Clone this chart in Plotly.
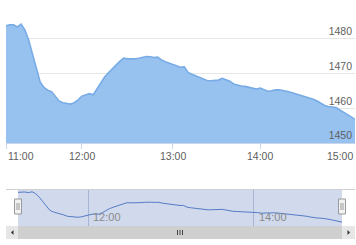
import numpy as np
import pandas as pd
import plotly.graph_objects as go

# ---- data ----
seg_starts = ["11:00", "12:00", "13:00", "14:00"]
seg_counts = [20, 24, 23, 25]   # points per hour (ordinal axis)
end_time = "15:00"

prices = [
    1483.7, 1484.0, 1484.0, 1483.4, 1484.2, 1482.5, 1479.5, 1475.5, 1471.4, 1467.6,
    1466.0, 1465.2, 1464.8, 1463.3, 1462.1, 1461.6, 1461.5, 1461.2, 1461.6, 1462.4,
    1463.5, 1463.9, 1464.2, 1463.9, 1465.5, 1467.4, 1469.0, 1470.2, 1471.2, 1472.4,
    1473.5, 1474.4, 1474.2, 1474.1, 1474.2, 1474.4, 1474.7, 1474.9, 1474.8, 1474.6,
    1474.7, 1473.9, 1473.4, 1473.0, 1472.7, 1472.2, 1471.8, 1471.9, 1470.3, 1469.8,
    1469.4, 1469.0, 1468.6, 1468.0, 1467.9, 1468.0, 1468.1, 1468.6, 1468.3, 1467.8,
    1467.0, 1466.6, 1466.4, 1466.3, 1466.1, 1465.8, 1465.5, 1465.8, 1465.4, 1464.9,
    1465.0, 1465.3, 1465.3, 1465.2, 1464.9, 1464.6, 1464.3, 1464.0, 1463.7, 1463.4,
    1462.9, 1462.6, 1462.1, 1461.4, 1460.8, 1460.5, 1460.4, 1460.2, 1459.5, 1458.9,
    1458.2, 1457.5, 1456.8,
]

main_ticks = ["11:00", "12:00", "13:00", "14:00", "15:00"]
nav_ticks = ["12:00", "14:00"]
y_ticks = [1450, 1460, 1470, 1480, 1490]
y_ticktext = ["1450", "1460", "1470", "1480", ""]

# ---- build ordinal time labels ----
times = []
for start, n in zip(seg_starts, seg_counts):
    t0 = pd.Timestamp("2000-01-01 " + start)
    for k in range(n):
        t = t0 + pd.Timedelta(seconds=round(3600 * k / n))
        times.append(t.strftime("%H:%M:%S"))
times.append(pd.Timestamp("2000-01-01 " + end_time).strftime("%H:%M:%S"))

def cat(hm):
    return hm + ":00"

W, H = 356, 245
px = lambda v: v / W
py = lambda v: 1 - v / H

fig = go.Figure()

fig.add_trace(go.Scatter(
    x=times, y=prices, mode="lines", fill="tozeroy",
    line=dict(color="#78ace6", width=1.6),
    fillcolor="rgb(151,193,239)",
    xaxis="x", yaxis="y", hoverinfo="x+y", showlegend=False,
))

fig.add_trace(go.Scatter(
    x=times, y=prices, mode="lines",
    line=dict(color="#4d78c4", width=1),
    xaxis="x2", yaxis="y2", hoverinfo="skip", showlegend=False,
))

font_fam = "Liberation Sans, Arial, sans-serif"

fig.update_layout(
    width=W, height=H,
    margin=dict(l=0, r=0, t=0, b=0),
    paper_bgcolor="white", plot_bgcolor="white",
    font=dict(family=font_fam, size=10, color="#606060"),
    xaxis=dict(
        type="category", domain=[px(6), px(355)], range=[0, len(times) - 1],
        anchor="y", showgrid=False, showline=True, linecolor="#ccd6eb", linewidth=1,
        ticks="outside", ticklen=5, tickcolor="#ccd6eb",
        tickvals=[cat(t) for t in main_ticks], showticklabels=False,
        zeroline=False, fixedrange=True,
    ),
    yaxis=dict(
        domain=[py(143), py(4)], range=[1450, 1490], anchor="x", side="right",
        tickvals=y_ticks, ticktext=y_ticktext, ticklabelposition="inside top",
        showgrid=True, gridcolor="#e6e6e6", gridwidth=1, showline=False,
        zeroline=False, ticks="", tickfont=dict(size=10.5, color="#606060"),
        fixedrange=True,
    ),
    xaxis2=dict(
        type="category", domain=[px(18), px(342)], range=[0, len(times) - 1],
        anchor="y2", showgrid=True, gridcolor="#c4cad6", gridwidth=1,
        tickvals=[cat(t) for t in nav_ticks], showticklabels=False,
        showline=False, zeroline=False, ticks="", fixedrange=True,
    ),
    yaxis2=dict(
        domain=[py(226), py(189)], range=[1453.3, 1486.7], anchor="x2",
        showgrid=False, showticklabels=False, showline=False, zeroline=False,
        fixedrange=True,
    ),
)

# main x tick labels (left/center/right aligned like Highcharts)
for t in main_ticks:
    anchor = "left" if t == main_ticks[0] else ("right" if t == main_ticks[-1] else "center")
    fig.add_annotation(
        x=cat(t), xref="x", y=py(156), yref="paper", text=t, showarrow=False,
        xanchor=anchor, yanchor="middle",
        font=dict(size=10.5, color="#606060", family=font_fam),
    )

# navigator labels
for t in nav_ticks:
    fig.add_annotation(
        x=cat(t), xref="x2", y=py(217), yref="paper", text=t, showarrow=False,
        xanchor="left", yanchor="middle", xshift=3,
        font=dict(size=11, color="#8a8a8a", family=font_fam),
    )

shapes = []
# navigator mask
shapes.append(dict(type="rect", xref="paper", yref="paper",
                   x0=px(18), x1=px(342), y0=py(226), y1=py(189),
                   fillcolor="rgba(102,133,194,0.3)", line=dict(width=0), layer="above"))
# navigator outline (top)
shapes.append(dict(type="line", xref="paper", yref="paper",
                   x0=px(6), x1=px(355), y0=py(189.5), y1=py(189.5),
                   line=dict(color="#d0d0d0", width=1)))
# scrollbar track / thumb
shapes.append(dict(type="rect", xref="paper", yref="paper",
                   x0=px(6), x1=px(355), y0=py(239), y1=py(226),
                   fillcolor="#eeeeee", line=dict(width=0)))
shapes.append(dict(type="rect", xref="paper", yref="paper",
                   x0=px(18), x1=px(342), y0=py(239), y1=py(226),
                   fillcolor="#cfcfcf", line=dict(width=0)))
# scrollbar buttons
for x0, x1 in [(6, 18), (342, 355)]:
    shapes.append(dict(type="rect", xref="paper", yref="paper",
                       x0=px(x0), x1=px(x1), y0=py(239), y1=py(226),
                       fillcolor="#e6e6e6", line=dict(width=0)))
# arrows
shapes.append(dict(type="path", xref="paper", yref="paper",
                   path=f"M {px(11)} {py(232.5)} L {px(13.5)} {py(230)} L {px(13.5)} {py(235)} Z",
                   fillcolor="#333333", line=dict(width=0)))
shapes.append(dict(type="path", xref="paper", yref="paper",
                   path=f"M {px(350)} {py(232.5)} L {px(347.5)} {py(230)} L {px(347.5)} {py(235)} Z",
                   fillcolor="#333333", line=dict(width=0)))
# thumb grip lines
for gx in [177.5, 180, 182.5]:
    shapes.append(dict(type="line", xref="paper", yref="paper",
                       x0=px(gx), x1=px(gx), y0=py(230), y1=py(235),
                       line=dict(color="#444444", width=1)))
# navigator handles
for hx in [18, 342]:
    shapes.append(dict(type="rect", xref="paper", yref="paper",
                       x0=px(hx - 3.5), x1=px(hx + 3.5), y0=py(214), y1=py(199),
                       fillcolor="#f2f2f2", line=dict(color="#999999", width=1), layer="above"))
    for dx in [-1, 1]:
        shapes.append(dict(type="line", xref="paper", yref="paper",
                           x0=px(hx + dx), x1=px(hx + dx), y0=py(203), y1=py(210),
                           line=dict(color="#999999", width=1), layer="above"))

fig.update_layout(shapes=shapes)

fig.write_html("out.html")
